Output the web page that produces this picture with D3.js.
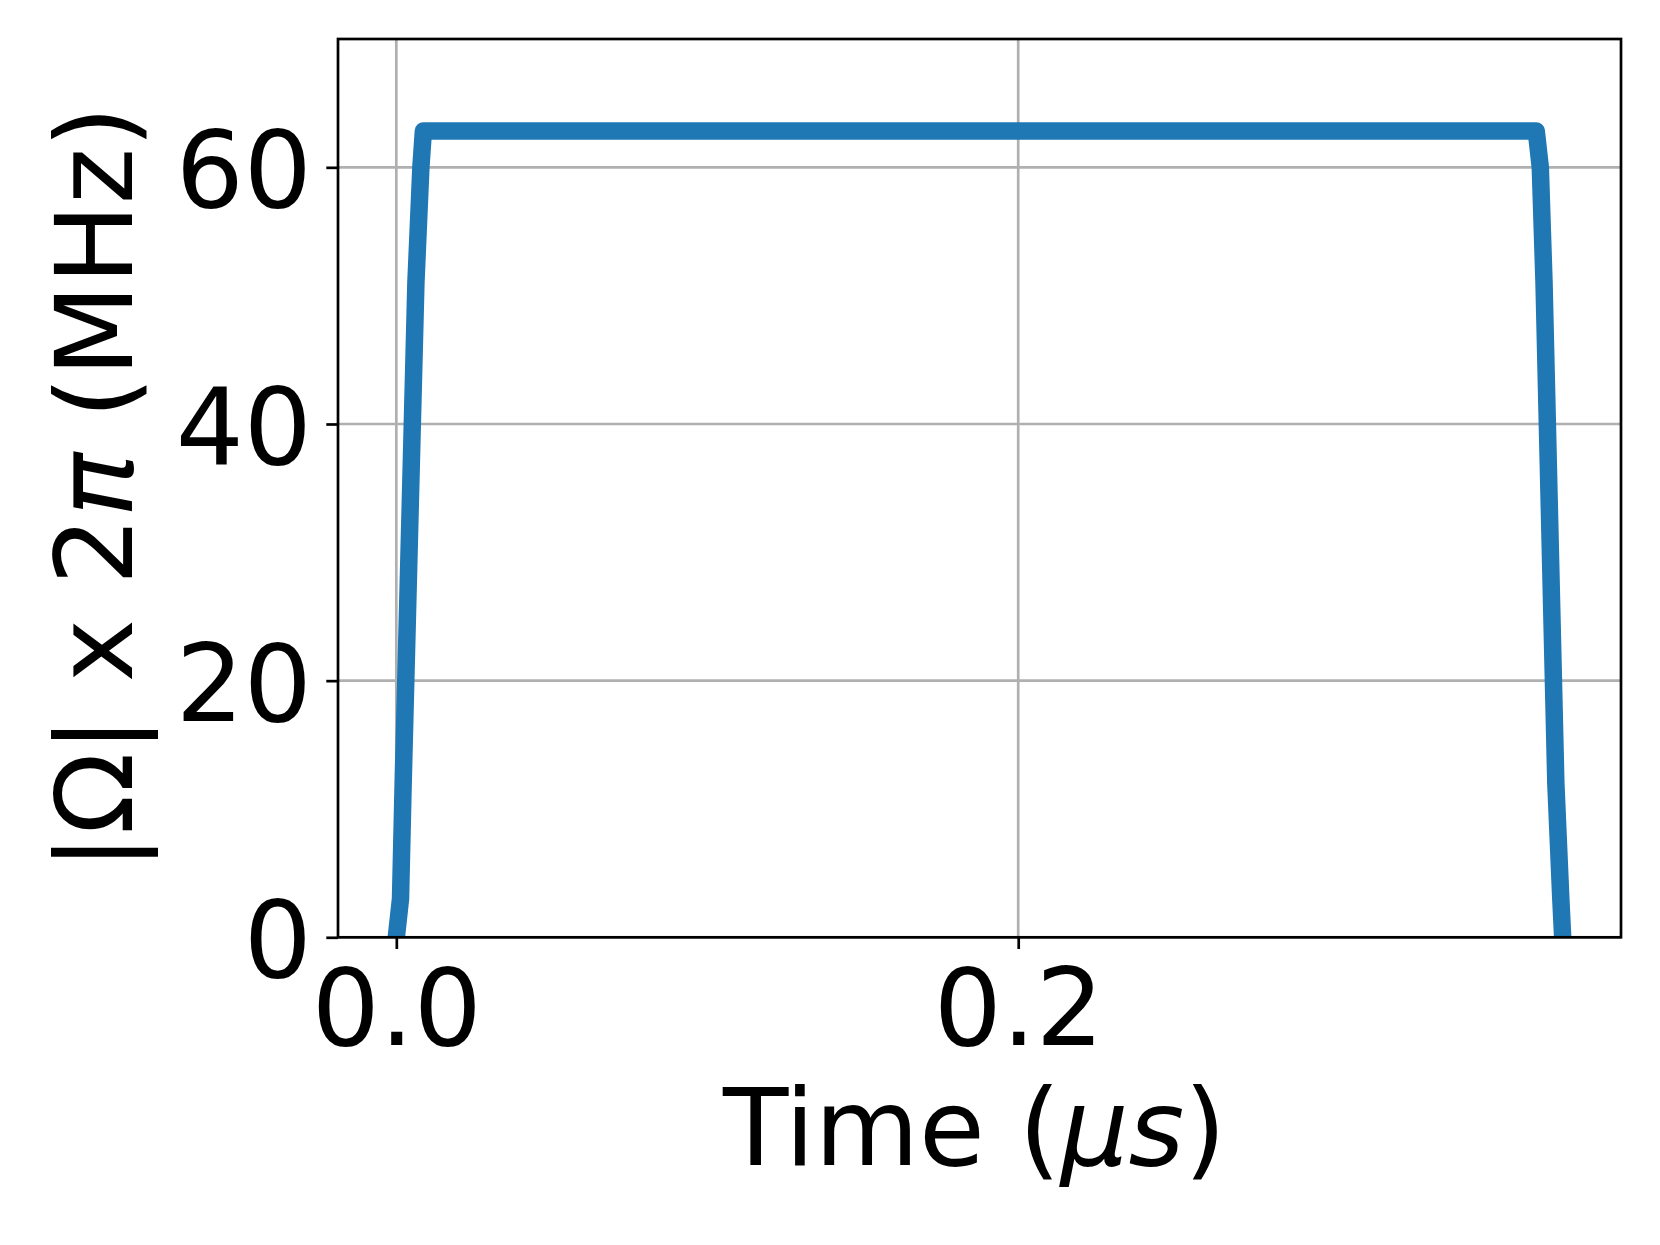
<!DOCTYPE html>
<html>
<head>
<meta charset="utf-8">
<script src="https://cdn.jsdelivr.net/npm/d3@7"></script>
<style>
  html, body { margin: 0; padding: 0; background: #ffffff; }
  svg { display: block; }
  text { font-family: "DejaVu Sans", sans-serif; fill: #000; }
</style>
</head>
<body>
<script>
// ---- data ----
const timeUs = [0, 0.00135, 0.0022, 0.0063, 0.0079, 0.0087, 0.3666, 0.3679, 0.3691, 0.3729, 0.3745, 0.3751];
const omegaMHz = [0, 3.0, 12.0, 51.0, 60.0, 62.83, 62.83, 60.0, 51.0, 12.0, 3.0, 0];
const xTicks = [0.0, 0.2];
const yTicks = [0, 20, 40, 60];
const yLimits = [0, 70];
const xLabelText = "Time (";
const yLabelParts = ["|Ω| x 2", "π", " (MHz)"];

// ---- layout ----
const W = 1660, H = 1245;
const L = 338, R = 1621, T = 39, B = 937.3;
const fs = 107;
const lw = 2.7;

const svg = d3.select("body").append("svg").attr("width", W).attr("height", H);
svg.append("rect").attr("width", W).attr("height", H).attr("fill", "#fff");

const xmin = d3.min(timeUs), xmax = d3.max(timeUs);
const pad = 0.05 * (xmax - xmin);
const x = d3.scaleLinear().domain([xmin - pad, xmax + pad]).range([L, R]);
const y = d3.scaleLinear().domain(yLimits).range([B, T]);

// grid
const grid = svg.append("g");
grid.selectAll("line.gx").data(xTicks).enter().append("line")
  .attr("x1", d => x(d)).attr("x2", d => x(d)).attr("y1", T).attr("y2", B)
  .attr("stroke", "#b0b0b0").attr("stroke-width", lw);
grid.selectAll("line.gy").data(yTicks).enter().append("line")
  .attr("x1", L).attr("x2", R).attr("y1", d => y(d)).attr("y2", d => y(d))
  .attr("stroke", "#b0b0b0").attr("stroke-width", lw);

// clip
svg.append("clipPath").attr("id", "plotclip").append("rect")
  .attr("x", L).attr("y", T).attr("width", R - L).attr("height", B - T);

// data line
const line = d3.line().x((d, i) => x(timeUs[i])).y(d => y(d));
svg.append("path").datum(omegaMHz)
  .attr("d", line)
  .attr("fill", "none").attr("stroke", "#1f77b4").attr("stroke-width", 17.5)
  .attr("stroke-linejoin", "round").attr("stroke-linecap", "butt")
  .attr("clip-path", "url(#plotclip)");

// spines
svg.append("rect").attr("x", L).attr("y", T).attr("width", R - L).attr("height", B - T)
  .attr("fill", "none").attr("stroke", "#000").attr("stroke-width", lw);

// axes
const xAxis = d3.axisBottom(x).tickValues(xTicks).tickFormat(d3.format(".1f"))
  .tickSize(11.7).tickPadding(11.7);
const gx = svg.append("g").attr("transform", `translate(0,${B})`).call(xAxis);
gx.select(".domain").remove();
gx.selectAll(".tick line").attr("stroke", "#000").attr("stroke-width", lw);
gx.selectAll(".tick text").attr("font-size", fs).attr("font-family", "DejaVu Sans")
  .attr("fill", "#000").attr("dy", null).attr("y", 108);

const yAxis = d3.axisLeft(y).tickValues(yTicks).tickFormat(d3.format("d"))
  .tickSize(11.7).tickPadding(14.5);
const gy = svg.append("g").attr("transform", `translate(${L},0)`).call(yAxis);
gy.select(".domain").remove();
gy.selectAll(".tick line").attr("stroke", "#000").attr("stroke-width", lw);
gy.selectAll(".tick text").attr("font-size", fs).attr("font-family", "DejaVu Sans")
  .attr("fill", "#000").attr("dy", "0.37em");

// x label
const xl = svg.append("text").attr("x", (L + R) / 2 - 5).attr("y", 1164.6)
  .attr("text-anchor", "middle").attr("font-size", fs);
xl.append("tspan").text(xLabelText);
xl.append("tspan").attr("font-style", "italic").text("μs");
xl.append("tspan").text(")");

// y label
const yl = svg.append("text")
  .attr("transform", `translate(132,${(T + B) / 2}) rotate(-90)`)
  .attr("text-anchor", "middle").attr("font-size", fs);
yl.append("tspan").text(yLabelParts[0]);
yl.append("tspan").attr("font-style", "italic").text(yLabelParts[1]);
yl.append("tspan").text(yLabelParts[2]);
</script>
</body>
</html>
